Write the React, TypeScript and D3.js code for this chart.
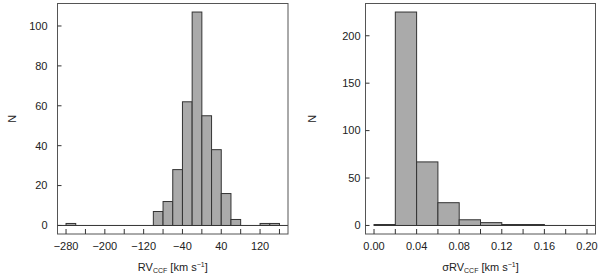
import React, { useRef, useEffect } from 'react';
import * as d3 from 'd3';

// left panel: RV_CCF histogram, 20 km/s bins
const rvBinStarts = [-280, -100, -80, -60, -40, -20, 0, 20, 40, 60, 120, 140];
const rvCounts = [1, 7, 12, 28, 62, 107, 55, 38, 16, 3, 1, 1];
const rvTicks = [-280, -240, -200, -160, -120, -80, -40, 0, 40, 80, 120, 160];
const rvTickLabels = ['\u2212280', '', '\u2212200', '', '\u2212120', '', '\u221240', '', '40', '', '120', ''];
const rvYTicks = [0, 20, 40, 60, 80, 100];

// right panel: sigma RV_CCF histogram, 0.02 km/s bins
const sigBinStarts = [0.0, 0.02, 0.04, 0.06, 0.08, 0.1, 0.12, 0.14];
const sigCounts = [1, 225, 67, 24, 6, 3, 1, 1];
const sigTicks = [0, 0.02, 0.04, 0.06, 0.08, 0.1, 0.12, 0.14, 0.16, 0.18, 0.2];
const sigTickLabels = ['0.00', '', '0.04', '', '0.08', '', '0.12', '', '0.16', '', '0.20'];
const sigYTicks = [0, 50, 100, 150, 200];

const W = 600, H = 274;
const FONT = 'Liberation Sans, Arial, sans-serif';

type Panel = {
  left: number; right: number; top: number; bottom: number;
  xDomain: [number, number]; yDomain: [number, number];
  binStarts: number[]; counts: number[]; binW: number;
  xTicks: number[]; xLabels: string[]; yTicks: number[];
  yLabelGap: number; nX: number; title: string;
  lineFrom: number | null;
};

const App = () => {
  const ref = useRef<SVGSVGElement>(null);

  useEffect(() => {
    const svg = d3.select(ref.current);
    svg.selectAll('*').remove();

    const panels: Panel[] = [
      {
        left: 57.5, right: 288, top: 3.5, bottom: 234,
        xDomain: [-297.6, 177.6], yDomain: [-4.28, 111.28],
        binStarts: rvBinStarts, counts: rvCounts, binW: 20,
        xTicks: rvTicks, xLabels: rvTickLabels, yTicks: rvYTicks,
        yLabelGap: 10, nX: 12, title: 'RV', lineFrom: null,
      },
      {
        left: 365.5, right: 595.5, top: 3.5, bottom: 234,
        xDomain: [-0.008, 0.208], yDomain: [-9, 234],
        binStarts: sigBinStarts, counts: sigCounts, binW: 0.02,
        xTicks: sigTicks, xLabels: sigTickLabels, yTicks: sigYTicks,
        yLabelGap: 5, nX: 312, title: '\u03C3RV', lineFrom: 0,
      },
    ];

    panels.forEach(p => {
      const x = d3.scaleLinear().domain(p.xDomain).range([p.left, p.right]);
      const y = d3.scaleLinear().domain(p.yDomain).range([p.bottom, p.top]);
      const g = svg.append('g');

      // zero line
      g.append('line')
        .attr('x1', p.lineFrom === null ? p.left : x(p.lineFrom))
        .attr('x2', p.right)
        .attr('y1', y(0)).attr('y2', y(0))
        .attr('stroke', '#333').attr('stroke-width', 1);

      // bars
      g.selectAll('rect.bar')
        .data(p.counts)
        .enter()
        .append('rect')
        .attr('class', 'bar')
        .attr('x', (d, i) => x(p.binStarts[i]))
        .attr('width', (d, i) => x(p.binStarts[i] + p.binW) - x(p.binStarts[i]))
        .attr('y', d => y(d))
        .attr('height', d => y(0) - y(d))
        .attr('fill', '#aaaaaa')
        .attr('stroke', '#333')
        .attr('stroke-width', 1);

      // box
      g.append('rect')
        .attr('x', p.left).attr('y', p.top)
        .attr('width', p.right - p.left).attr('height', p.bottom - p.top)
        .attr('fill', 'none').attr('stroke', '#555').attr('stroke-width', 1);

      // x ticks (inward)
      g.selectAll('line.xt')
        .data(p.xTicks)
        .enter()
        .append('line')
        .attr('x1', d => x(d)).attr('x2', d => x(d))
        .attr('y1', p.bottom).attr('y2', p.bottom - 5)
        .attr('stroke', '#333');

      g.selectAll('text.xl')
        .data(p.xTicks)
        .enter()
        .append('text')
        .attr('x', d => x(d))
        .attr('y', 246)
        .attr('dy', '0.35em')
        .attr('text-anchor', 'middle')
        .style('font-family', FONT)
        .style('font-size', '11px')
        .attr('fill', '#222')
        .text((d, i) => p.xLabels[i]);

      // y ticks (inward)
      g.selectAll('line.yt')
        .data(p.yTicks)
        .enter()
        .append('line')
        .attr('x1', p.left).attr('x2', p.left + 4)
        .attr('y1', d => y(d)).attr('y2', d => y(d))
        .attr('stroke', '#333');

      g.selectAll('text.yl')
        .data(p.yTicks)
        .enter()
        .append('text')
        .attr('x', p.left - p.yLabelGap)
        .attr('y', d => y(d))
        .attr('dy', '0.35em')
        .attr('text-anchor', 'end')
        .style('font-family', FONT)
        .style('font-size', '11px')
        .attr('fill', '#222')
        .text(d => d);

      // axis titles
      g.append('text')
        .attr('transform', `translate(${p.nX},${(p.top + p.bottom) / 2}) rotate(-90)`)
        .attr('dy', '0.35em')
        .attr('text-anchor', 'middle')
        .style('font-family', FONT)
        .style('font-size', '11px')
        .attr('fill', '#222')
        .text('N');

      const t = g.append('text')
        .attr('x', (p.left + p.right) / 2)
        .attr('y', 271)
        .attr('text-anchor', 'middle')
        .style('font-family', FONT)
        .style('font-size', '11px')
        .attr('fill', '#222');
      t.append('tspan').text(p.title);
      t.append('tspan').attr('font-size', '7px').attr('dy', '1.5').text('CCF');
      t.append('tspan').attr('dy', '-1.5').text(' [km s');
      t.append('tspan').attr('font-size', '7px').attr('dy', '-4').text('\u22121');
      t.append('tspan').attr('dy', '4').text(']');
    });
  }, []);

  return (
    <svg
      ref={ref}
      width={W}
      height={H}
      style={{ position: 'absolute', left: 0, top: 0, background: '#fff' }}
    />
  );
};

export default App;
